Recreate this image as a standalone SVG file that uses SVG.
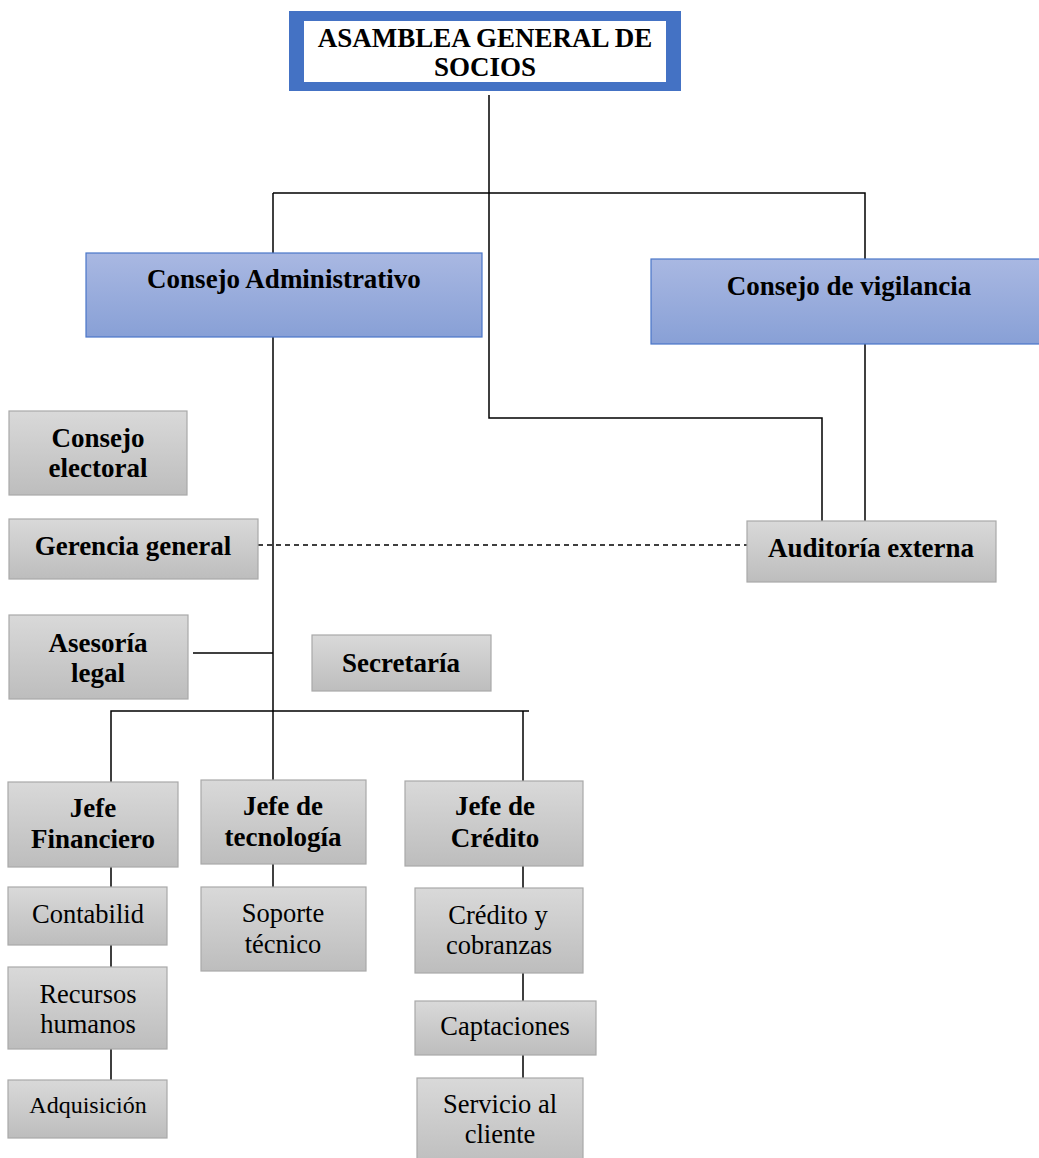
<svg xmlns="http://www.w3.org/2000/svg" width="1039" height="1158" viewBox="0 0 1039 1158">
<defs>
<linearGradient id="gBlue" x1="0" y1="0" x2="0" y2="1">
<stop offset="0" stop-color="#a9b8e2"/>
<stop offset="1" stop-color="#88a0d6"/>
</linearGradient>
<linearGradient id="gGray" x1="0" y1="0" x2="0" y2="1">
<stop offset="0" stop-color="#d9d9d9"/>
<stop offset="1" stop-color="#bdbdbd"/>
</linearGradient>
<style>
.blue{fill:url(#gBlue);stroke:#4a76c8;stroke-width:1.2}
.gray{fill:url(#gGray);stroke:#a9a9a9;stroke-width:1.2}
.b{font-family:"Liberation Serif","Times New Roman",serif;font-weight:bold;font-size:27px;fill:#000;text-anchor:middle}
.r{font-family:"Liberation Serif","Times New Roman",serif;font-size:26.5px;fill:#000;text-anchor:middle}
.ln{fill:none;stroke:#000;stroke-width:1.5}
.dash{fill:none;stroke:#000;stroke-width:1.5;stroke-dasharray:5 4}
</style>
</defs>
<rect width="1039" height="1158" fill="#fff"/>
<g id="connectors">
<path class="ln" d="M489 95 V418 H822 V521"/>
<path class="ln" d="M273 193 H865 V259"/>
<path class="ln" d="M273 193 V253"/>
<path class="ln" d="M273 337 V780"/>
<path class="ln" d="M865 344 V521"/>
<path class="dash" d="M258 545 H747"/>
<path class="ln" d="M193 653 H273"/>
<path class="ln" d="M111 782 V711 H529"/>
<path class="ln" d="M523 711 V781"/>
<path class="ln" d="M111 867 V887 M111 945 V967 M111 1049 V1080"/>
<path class="ln" d="M273 864 V887"/>
<path class="ln" d="M523 866 V888 M523 973 V1001 M523 1055 V1078"/>
</g>
<g id="asamblea">
<rect x="289" y="11" width="392" height="80" fill="#4472c4"/>
<rect x="304" y="21" width="362" height="61" fill="#fff"/>
<text class="b" x="485" y="47">ASAMBLEA GENERAL DE</text>
<text class="b" x="485" y="76">SOCIOS</text>
</g>
<g id="consejo-administrativo">
<rect class="blue" x="86" y="253" width="396" height="84"/>
<text class="b" x="284" y="288">Consejo Administrativo</text>
</g>
<g id="consejo-vigilancia">
<rect class="blue" x="651" y="259" width="400" height="85"/>
<text class="b" x="849" y="295">Consejo de vigilancia</text>
</g>
<g id="consejo-electoral">
<rect class="gray" x="9" y="411" width="178" height="84"/>
<text class="b" x="98" y="447">Consejo</text>
<text class="b" x="98" y="477">electoral</text>
</g>
<g id="gerencia-general">
<rect class="gray" x="9" y="519" width="249" height="60"/>
<text class="b" x="133" y="555">Gerencia general</text>
</g>
<g id="auditoria-externa">
<rect class="gray" x="747" y="521" width="249" height="61"/>
<text class="b" x="871" y="557">Auditoría externa</text>
</g>
<g id="asesoria-legal">
<rect class="gray" x="9" y="615" width="179" height="84"/>
<text class="b" x="98" y="652">Asesoría</text>
<text class="b" x="98" y="682">legal</text>
</g>
<g id="secretaria">
<rect class="gray" x="312" y="635" width="179" height="56"/>
<text class="b" x="401" y="672">Secretaría</text>
</g>
<g id="jefe-financiero">
<rect class="gray" x="8" y="782" width="170" height="85"/>
<text class="b" x="93" y="817">Jefe</text>
<text class="b" x="93" y="848">Financiero</text>
</g>
<g id="jefe-tecnologia">
<rect class="gray" x="201" y="780" width="165" height="84"/>
<text class="b" x="283" y="815">Jefe de</text>
<text class="b" x="283" y="846">tecnología</text>
</g>
<g id="jefe-credito">
<rect class="gray" x="405" y="781" width="178" height="85"/>
<text class="b" x="495" y="815">Jefe de</text>
<text class="b" x="495" y="847">Crédito</text>
</g>
<g id="contabilidad">
<rect class="gray" x="8" y="887" width="159" height="58"/>
<text class="r" x="88" y="923">Contabilid</text>
</g>
<g id="recursos-humanos">
<rect class="gray" x="8" y="967" width="159" height="82"/>
<text class="r" x="88" y="1003">Recursos</text>
<text class="r" x="88" y="1033">humanos</text>
</g>
<g id="adquisicion">
<rect class="gray" x="8" y="1080" width="159" height="58"/>
<text class="r" x="88" y="1113" style="font-size:24px">Adquisición</text>
</g>
<g id="soporte-tecnico">
<rect class="gray" x="201" y="887" width="165" height="84"/>
<text class="r" x="283" y="922">Soporte</text>
<text class="r" x="283" y="953">técnico</text>
</g>
<g id="credito-cobranzas">
<rect class="gray" x="415" y="888" width="168" height="85"/>
<text class="r" x="498" y="924">Crédito y</text>
<text class="r" x="499" y="954">cobranzas</text>
</g>
<g id="captaciones">
<rect class="gray" x="415" y="1001" width="181" height="54"/>
<text class="r" x="505" y="1035">Captaciones</text>
</g>
<g id="servicio-cliente">
<rect class="gray" x="417" y="1078" width="166" height="90"/>
<text class="r" x="500" y="1113">Servicio al</text>
<text class="r" x="500" y="1143">cliente</text>
</g>
</svg>
